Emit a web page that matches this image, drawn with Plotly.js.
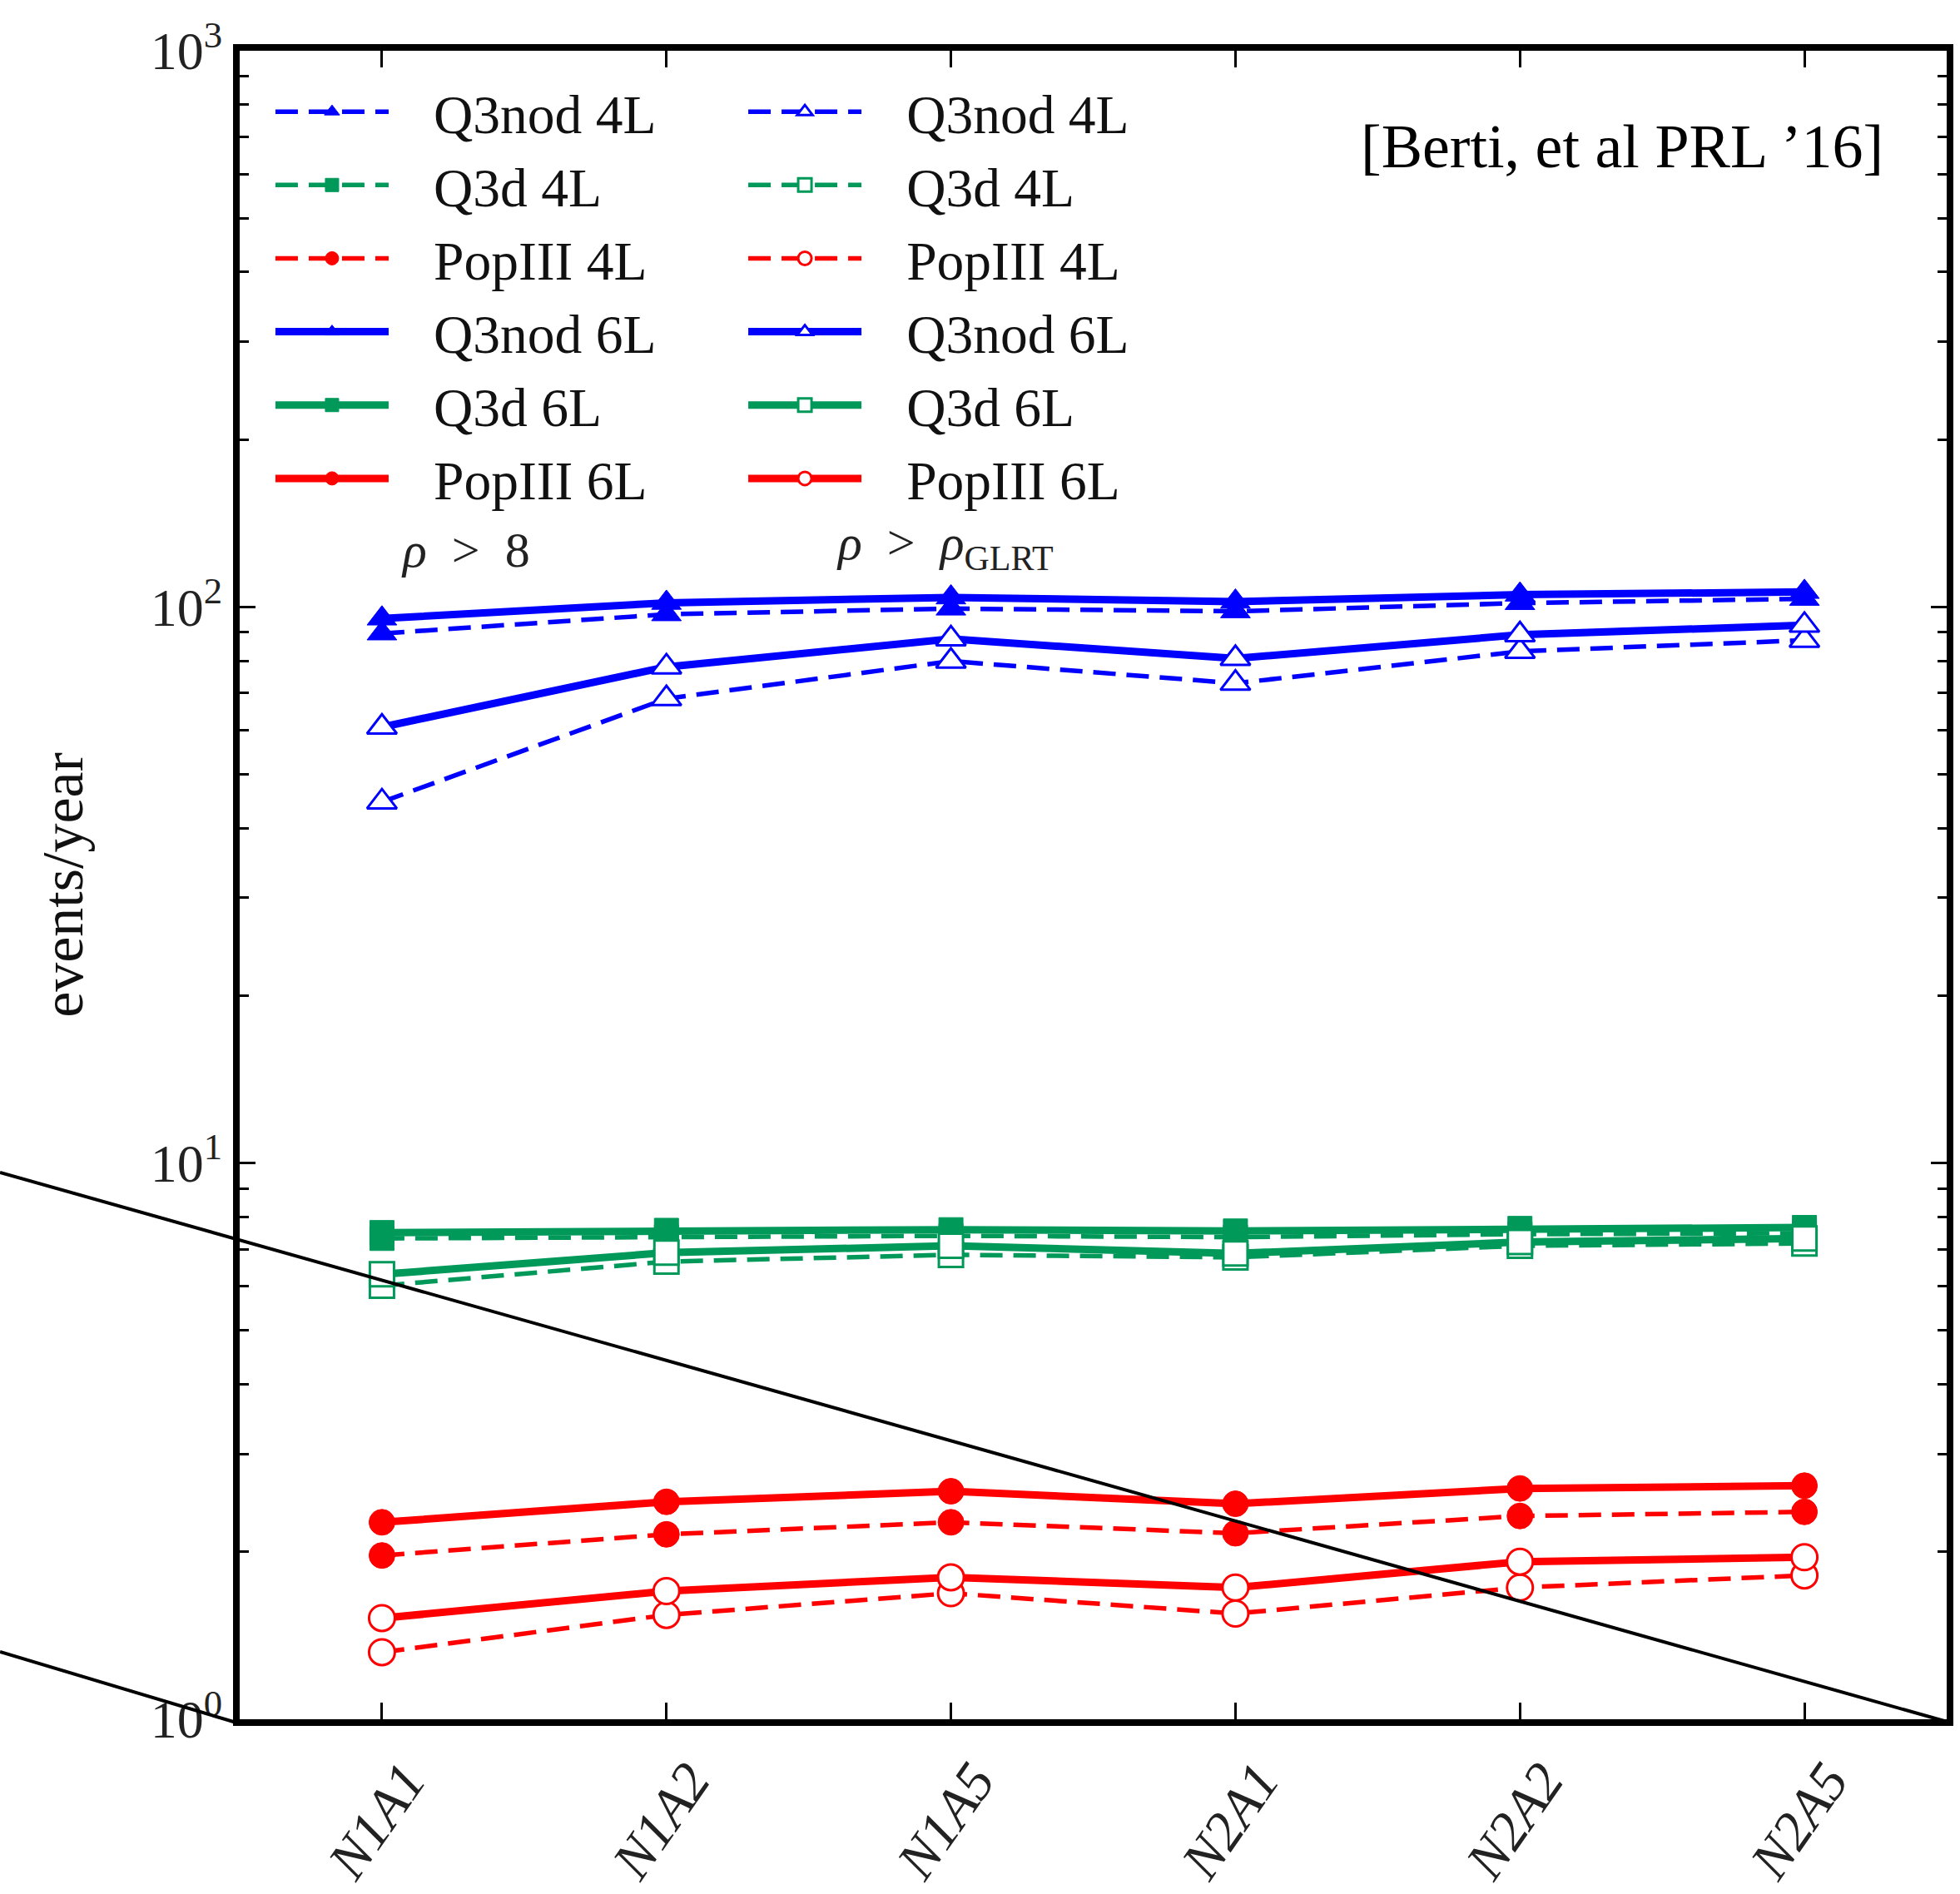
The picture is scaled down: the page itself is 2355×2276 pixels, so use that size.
<!DOCTYPE html>
<html>
<head>
<meta charset="utf-8">
<script src="https://cdn.plot.ly/plotly-3.0.1.min.js"></script>
<style>
  html, body { margin: 0; padding: 0; background: #fff; }
  #chart { width: 2355px; height: 2276px; }
</style>
</head>
<body>
<div id="chart"></div>
<script>
// Detector configurations (x axis)
const categories = ['N1A1', 'N1A2', 'N1A5', 'N2A1', 'N2A2', 'N2A5'];

// Detection rates (events/year) with threshold rho > 8  (filled markers)
const q3nod4L_snr8  = [89.6, 97.0, 99.3, 98.2, 101.6, 103.4];
const q3d4L_snr8    = [7.32, 7.37, 7.40, 7.36, 7.45, 7.48];
const popIII4L_snr8 = [1.97, 2.15, 2.26, 2.16, 2.32, 2.36];
const q3nod6L_snr8  = [95.3, 101.7, 104.0, 102.2, 105.2, 106.4];
const q3d6L_snr8    = [7.50, 7.57, 7.59, 7.55, 7.63, 7.66];
const popIII6L_snr8 = [2.26, 2.46, 2.57, 2.44, 2.60, 2.63];

// Detection rates with threshold rho > rho_GLRT  (open markers)
const q3nod4L_glrt  = [44.6, 68.4, 79.9, 72.9, 83.2, 87.1];
const q3d4L_glrt    = [6.02, 6.65, 6.84, 6.77, 7.10, 7.17];
const popIII4L_glrt = [1.32, 1.54, 1.685, 1.549, 1.725, 1.814];
const q3nod6L_glrt  = [60.8, 78.0, 87.6, 80.8, 89.1, 92.7];
const q3d6L_glrt    = [6.31, 6.90, 7.10, 6.88, 7.21, 7.32];
const popIII6L_glrt = [1.52, 1.70, 1.80, 1.725, 1.92, 1.956];

// Log-axis tick labels
const yTickVals = [1, 10, 100, 1000];
const yTickText = ['10<sup>0</sup>', '10<sup>1</sup>', '10<sup>2</sup>', '10<sup>3</sup>'];

const BLUE = '#0000FF';
const GREEN = '#00995A';
const RED = '#FF0000';
const SERIF = 'Liberation Serif, DejaVu Serif, serif';
const GAP = '\u2002\u2005';

function series(name, values, color, symbol, size, filled, dashed, legendId) {
  return {
    type: 'scatter',
    mode: 'lines+markers',
    x: categories,
    y: values,
    name: GAP + name,
    legend: legendId,
    line: { color: color, width: dashed ? 5.5 : 9, dash: dashed ? '27px,13px' : 'solid' },
    marker: {
      symbol: symbol,
      size: size,
      color: filled ? color : '#FFFFFF',
      line: { color: color, width: filled ? 1 : 3 }
    },
    cliponaxis: false
  };
}

const traces = [
  series('Q3nod 4L',  q3nod4L_snr8,  BLUE,  'triangle-up', 31, true,  true,  'legend'),
  series('Q3d 4L',    q3d4L_snr8,    GREEN, 'square',      29, true,  true,  'legend'),
  series('PopIII 4L', popIII4L_snr8, RED,   'circle',      31, true,  true,  'legend'),
  series('Q3nod 6L',  q3nod6L_snr8,  BLUE,  'triangle-up', 31, true,  false, 'legend'),
  series('Q3d 6L',    q3d6L_snr8,    GREEN, 'square',      29, true,  false, 'legend'),
  series('PopIII 6L', popIII6L_snr8, RED,   'circle',      31, true,  false, 'legend'),
  series('Q3nod 4L',  q3nod4L_glrt,  BLUE,  'triangle-up', 31, false, true,  'legend2'),
  series('Q3d 4L',    q3d4L_glrt,    GREEN, 'square',      29, false, true,  'legend2'),
  series('PopIII 4L', popIII4L_glrt, RED,   'circle',      31, false, true,  'legend2'),
  series('Q3nod 6L',  q3nod6L_glrt,  BLUE,  'triangle-up', 31, false, false, 'legend2'),
  series('Q3d 6L',    q3d6L_glrt,    GREEN, 'square',      29, false, false, 'legend2'),
  series('PopIII 6L', popIII6L_glrt, RED,   'circle',      31, false, false, 'legend2')
];

const legendCommon = {
  orientation: 'v',
  yanchor: 'top',
  xanchor: 'left',
  y: 0.988,
  bgcolor: 'rgba(0,0,0,0)',
  borderwidth: 0,
  itemwidth: 136,
  itemclick: false,
  font: { family: SERIF, size: 65.5, color: '#111' }
};

const layout = {
  width: 2355,
  height: 2276,
  margin: { l: 288, r: 16, t: 61, b: 210 },
  paper_bgcolor: '#FFFFFF',
  plot_bgcolor: '#FFFFFF',
  font: { family: SERIF, color: '#111' },
  showlegend: true,
  legend: Object.assign({}, legendCommon, { x: 0.0185 }),
  legend2: Object.assign({}, legendCommon, { x: 0.2955 }),
  xaxis: {
    type: 'category',
    range: [-0.5, 5.5],
    showgrid: false,
    zeroline: false,
    showline: true,
    linecolor: '#000',
    linewidth: 8,
    mirror: 'allticks',
    ticks: 'inside',
    ticklen: 20,
    tickwidth: 3,
    tickcolor: '#000',
    tickangle: -55,
    ticklabelshift: 28,
    tickfont: { family: SERIF, size: 66, style: 'italic', color: '#222' }
  },
  yaxis: {
    type: 'log',
    range: [0, 3],
    showgrid: false,
    zeroline: false,
    showline: true,
    linecolor: '#000',
    linewidth: 8,
    mirror: 'allticks',
    ticks: 'inside',
    ticklen: 19,
    tickwidth: 3,
    tickcolor: '#000',
    tickmode: 'array',
    tickvals: yTickVals,
    ticktext: yTickText,
    tickfont: { family: SERIF, size: 64, color: '#222' },
    minor: { dtick: 'D1', ticks: 'inside', ticklen: 11, tickwidth: 3, tickcolor: '#000', showgrid: false },
    title: { text: 'events/year', standoff: 61, font: { family: SERIF, size: 70, color: '#111' } }
  },
  shapes: [
    { type: 'line', xref: 'paper', yref: 'paper', x0: -0.1404, y0: 0.3277, x1: 1.002, y1: -0.002,
      line: { color: '#000', width: 4 }, layer: 'above' },
    { type: 'line', xref: 'paper', yref: 'paper', x0: -0.1404, y0: 0.0404, x1: -0.002, y1: -0.002,
      line: { color: '#000', width: 4 }, layer: 'above' }
  ],
  annotations: [
    { xref: 'paper', yref: 'paper', x: 0.9639, y: 0.9426, xanchor: 'right', yanchor: 'middle',
      text: '[Berti, et al PRL \u201916]', showarrow: false,
      font: { family: SERIF, size: 74, color: '#000' } },
    { xref: 'paper', yref: 'paper', x: 0.1326, y: 0.7007, xanchor: 'center', yanchor: 'middle',
      text: '<i>\u03C1</i>\u2002>\u20028', showarrow: false,
      font: { family: SERIF, size: 60, color: '#222' } },
    { xref: 'paper', yref: 'paper', x: 0.3486, y: 0.7032, xanchor: 'left', yanchor: 'middle',
      text: '<i>\u03C1</i>\u2002>\u2002<i>\u03C1</i><sub>GLRT</sub>', showarrow: false,
      font: { family: SERIF, size: 60, color: '#222' } }
  ]
};

Plotly.newPlot('chart', traces, layout, { staticPlot: true, displayModeBar: false });
</script>
</body>
</html>
